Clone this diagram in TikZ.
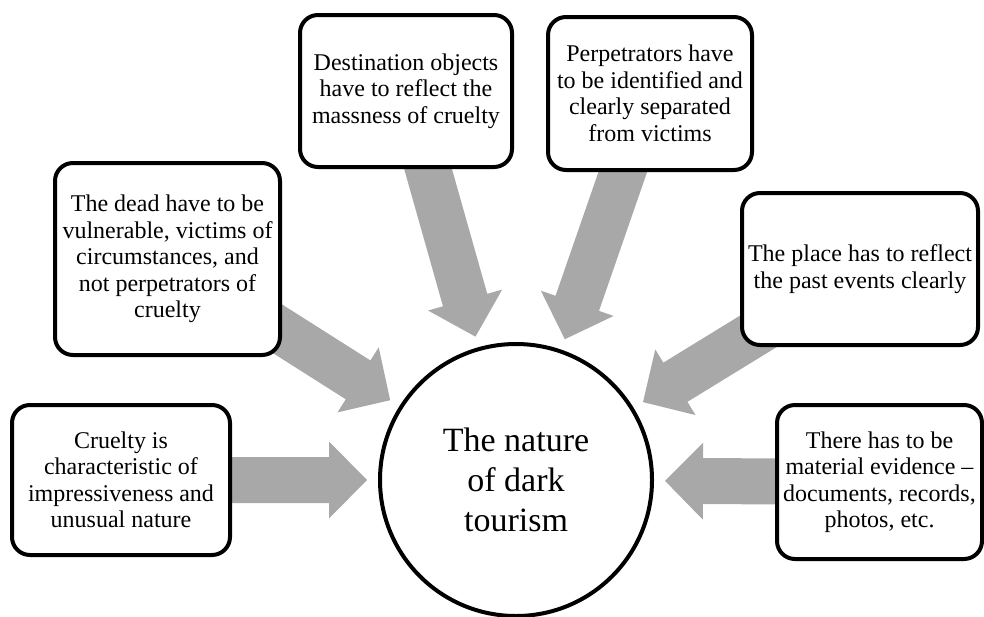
\documentclass[tikz,border=0pt]{standalone}
\usepackage{fontspec}
\setmainfont{Liberation Serif}
\usetikzlibrary{calc}
\pgfdeclarelayer{bg}
\pgfsetlayers{bg,main}
\definecolor{arrowgray}{RGB}{168,168,168}
\tikzset{
  box/.style={draw=black, line width=4pt, rounded corners=18pt, fill=white,
    align=center, inner sep=2pt, font=\fontsize{24}{26.5}\selectfont},
  hub/.style={draw=black, line width=4pt, circle, fill=white, minimum size=272pt,
    inner sep=0pt, align=center, font=\fontsize{34}{40}\selectfont}
}
\newcommand\bigarrow[2]{%
  \coordinate (tipA) at ($(#2.center)!149pt!(#1.center)$);
  \coordinate (baseA) at ($(tipA)!38pt!(#1.center)$);
  \fill[arrowgray] ($(#1.center)!23pt!90:(tipA)$) -- ($(baseA)!23pt!90:(tipA)$)
    -- ($(baseA)!38.5pt!90:(tipA)$) -- (tipA) -- ($(baseA)!38.5pt!-90:(tipA)$)
    -- ($(baseA)!23pt!-90:(tipA)$) -- ($(#1.center)!23pt!-90:(tipA)$) -- cycle;}
\begin{document}
\begin{tikzpicture}[x=1pt, y=-1pt]
\useasboundingbox (0,0) rectangle (984,616);
\node[hub] (hub) at (516,480) {The nature\\of dark\\tourism};
\node[box, minimum width=218pt, minimum height=150pt] (b1) at (121,480)
  {Cruelty is\\characteristic of\\impressiveness and\\unusual nature};
\node[box, minimum width=225pt, minimum height=192pt] (b2) at (167.5,259)
  {The dead have to be\\vulnerable, victims of\\circumstances, and\\not perpetrators of\\cruelty};
\node[box, minimum width=212pt, minimum height=152pt] (b3) at (406,91)
  {Destination objects\\have to reflect the\\massness of cruelty};
\node[box, minimum width=204pt, minimum height=153pt] (b4) at (650,93.5)
  {Perpetrators have\\to be identified and\\clearly separated\\from victims};
\node[box, minimum width=236pt, minimum height=152pt] (b5) at (860,269)
  {The place has to reflect\\the past events clearly};
\node[box, minimum width=205pt, minimum height=154pt] (b6) at (879.5,482)
  {There has to be\\material evidence –\\documents, records,\\photos, etc.};
\begin{pgfonlayer}{bg}
  \bigarrow{b1}{hub}
  \bigarrow{b2}{hub}
  \bigarrow{b3}{hub}
  \bigarrow{b4}{hub}
  \bigarrow{b5}{hub}
  \bigarrow{b6}{hub}
\end{pgfonlayer}
\end{tikzpicture}
\end{document}
